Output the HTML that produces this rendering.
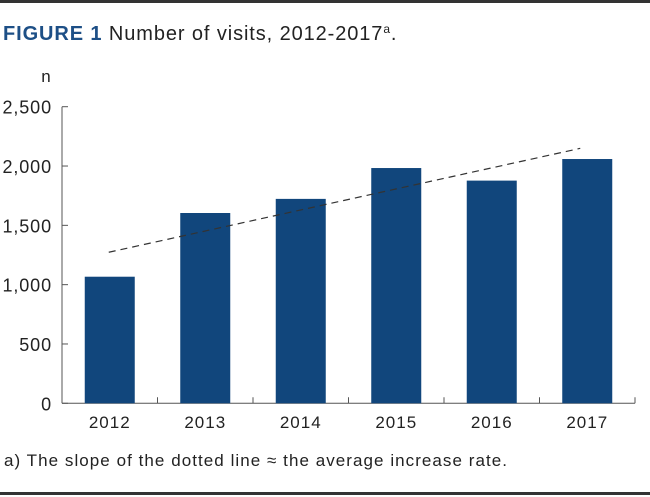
<!DOCTYPE html>
<html><head><meta charset="utf-8"><style>
body{margin:0;background:#fff;font-family:"Liberation Sans",sans-serif;}
svg{display:block}
</style></head><body>
<svg width="650" height="497" viewBox="0 0 650 497">
<rect x="0" y="0" width="650" height="3" fill="#333"/>
<text x="3" y="40" font-size="20" fill="#222" letter-spacing="0.9"><tspan fill="#1d4f86" font-weight="bold">FIGURE 1</tspan> Number of visits, 2012-2017<tspan font-size="12" dy="-7">a</tspan><tspan dy="7">.</tspan></text>
<text x="46" y="82" font-size="17" fill="#222" text-anchor="middle">n</text>
<g id="chart"></g>
<text x="4" y="466" font-size="17" fill="#222" textLength="503" lengthAdjust="spacing">a) The slope of the dotted line ≈ the average increase rate.</text>
<rect x="0" y="492" width="650" height="3" fill="#333"/>
</svg>
<script>
const categories=["2012","2013","2014","2015","2016","2017"];
const visits=[1067,1604,1723,1983,1877,2059];
const yTicks=[0,500,1000,1500,2000,2500];
const yTickLabels=["0","500","1,000","1,500","2,000","2,500"];
const trendStart=1273, trendEnd=2149;
const NS="http://www.w3.org/2000/svg";
const g=document.getElementById('chart');
const x0=62,bw=95.5,y0=403.3,ppu=296.6/2500,barW=50;
const y=v=>y0-v*ppu;
const xc=i=>x0+bw*(i+0.5);
function mk(t,a){const e=document.createElementNS(NS,t);for(const k in a)e.setAttribute(k,a[k]);g.appendChild(e);return e;}
let e;
e=mk('line',{x1:x0,y1:y(2500),x2:x0,y2:y0,stroke:'#555','stroke-width':1});


e=mk('line',{x1:x0,y1:y0,x2:x0+bw*categories.length,y2:y0,stroke:'#555','stroke-width':1});


yTicks.forEach((v,i)=>{
 e=mk('line',{x1:x0,y1:y(v),x2:x0+6,y2:y(v),stroke:'#555','stroke-width':1});
 
 
 e=mk('text',{x:x0-10,y:y(v)+7,'font-size':18,fill:'#222','text-anchor':'end','letter-spacing':0.9});
 e.textContent=yTickLabels[i];
 
 
});
categories.forEach((c,i)=>{
 e=mk('line',{x1:x0+bw*(i+1),y1:y0,x2:x0+bw*(i+1),y2:y0-6,stroke:'#555','stroke-width':1});
 
 
 e=mk('rect',{x:xc(i)-barW/2,y:y(visits[i]),width:barW,height:visits[i]*ppu,fill:'#11467c'});
 
 
 e=mk('text',{x:xc(i),y:428,'font-size':17,fill:'#222','text-anchor':'middle','letter-spacing':1});
 e.textContent=c;
 
 
});
e=mk('line',{x1:xc(0)-1,y1:y(trendStart),x2:xc(5)-7,y2:y(trendEnd),stroke:'#333','stroke-width':1.2,'stroke-dasharray':'7,5'});


</script>
</body></html>
